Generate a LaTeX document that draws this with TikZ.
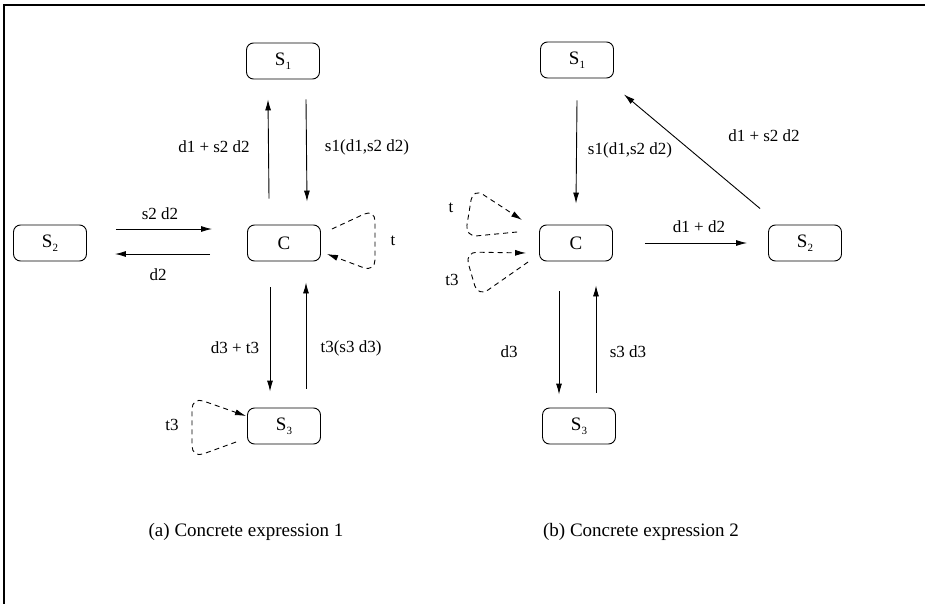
\documentclass[tikz,border=0pt]{standalone}
\usepackage{fontspec}
\setmainfont{Liberation Serif}
\usetikzlibrary{arrows.meta}
\newcommand{\lowsub}[1]{\raisebox{-0.45ex}{\fontsize{11}{11}\selectfont #1}}
\tikzset{
  state/.style={draw,rounded corners=7pt,minimum width=73pt,minimum height=36pt,
    inner sep=0pt,line width=0.9pt,font=\fontsize{19}{19}\selectfont},
  arr/.style={line width=0.9pt,-{Latex[length=11pt,width=6pt]}},
  loopy/.style={arr,dash pattern=on 5pt off 4pt,rounded corners=12pt},
  lbl/.style={font=\fontsize{17}{17}\selectfont,inner sep=0pt},
  capt/.style={font=\fontsize{19}{19}\selectfont,inner sep=0pt}
}
\begin{document}
\begin{tikzpicture}[x=1pt,y=-1pt]
  \useasboundingbox (0,0) rectangle (925,604);
  \draw[line width=2pt] (4,604) -- (4,5) -- (925,5);

  % (a)
  \node[state] (S1a) at (283,61) {S\lowsub{1}};
  \node[state] (Ca) at (284,243) {C};
  \node[state] (S2a) at (50,243) {S\lowsub{2}};
  \node[state] (S3a) at (284,426) {S\lowsub{3}};

  \draw[arr] ([shift={(-15,-26)}]Ca.north) -- ([shift={(-15,20)}]S1a.south);
  \draw[arr] ([shift={(23,20)}]S1a.south) -- ([shift={(23,-23)}]Ca.north);
  \node[lbl] (la1) at (214,147) {d1 + s2 d2};
  \node[lbl] (la2) at (367,147) {s1(d1,s2 d2)};

  \draw[arr] ([shift={(29,-14)}]S2a.east) -- ([shift={(-35,-14)}]Ca.west);
  \draw[arr] ([shift={(-37,11)}]Ca.west) -- ([shift={(28,11)}]S2a.east);
  \node[lbl] (la3) at (160,214) {s2 d2};
  \node[lbl] (la4) at (158,275) {d2};

  \draw[loopy] ([shift={(11,-14)}]Ca.east) -- (375,209) -- (375,272) -- ([shift={(6,11)}]Ca.east);
  \node[lbl] (la5) at (393,241) {t};

  \draw[arr] ([shift={(-14,26)}]Ca.south) -- ([shift={(-14,-16)}]S3a.north);
  \draw[arr] ([shift={(22,-19)}]S3a.north) -- ([shift={(22,21)}]Ca.south);
  \node[lbl] (la6) at (235,348) {d3 + t3};
  \node[lbl] (la7) at (351,348) {t3(s3 d3)};

  \draw[loopy] ([shift={(-11,16)}]S3a.west) -- (192,458) -- (192,397) -- ([shift={(-1,-10)}]S3a.west);
  \node[lbl] (la8) at (172,425) {t3};

  \node[capt] (capa) at (246,532) {(a) Concrete expression 1};

  % (b)
  \node[state] (S1b) at (577,60) {S\lowsub{1}};
  \node[state] (Cb) at (576,243) {C};
  \node[state] (S2b) at (805,243) {S\lowsub{2}};
  \node[state] (S3b) at (579,426) {S\lowsub{3}};

  \draw[arr] ([shift={(0,22)}]S1b.south) -- ([shift={(0,-21)}]Cb.north);
  \node[lbl] (lb1) at (630,150) {s1(d1,s2 d2)};

  \draw[arr] ([shift={(-8,-16)}]S2b.north west) -- ([shift={(10,16)}]S1b.south east);
  \node[lbl] (lb2) at (764,136) {d1 + s2 d2};

  \draw[arr] ([shift={(32,0)}]Cb.east) -- ([shift={(-21,0)}]S2b.west);
  \node[lbl] (lb3) at (699,227) {d1 + d2};

  \draw[loopy] ([shift={(-22,-11)}]Cb.west) -- (465,237) -- (473,188) -- ([shift={(-17,-23)}]Cb.west);
  \node[lbl] (lb4) at (451,208) {t};
  \draw[loopy] ([shift={(-11,19)}]Cb.west) -- (478,297) -- (465,252) -- ([shift={(-13,10)}]Cb.west);
  \node[lbl] (lb5) at (452,280) {t3};

  \draw[arr] ([shift={(-17,30)}]Cb.south) -- ([shift={(-20,-13)}]S3b.north);
  \draw[arr] ([shift={(17,-15)}]S3b.north) -- ([shift={(20,24)}]Cb.south);
  \node[lbl] (lb6) at (509,352) {d3};
  \node[lbl] (lb7) at (628,352) {s3 d3};

  \node[capt] (capb) at (641,532) {(b) Concrete expression 2};
\end{tikzpicture}
\end{document}
